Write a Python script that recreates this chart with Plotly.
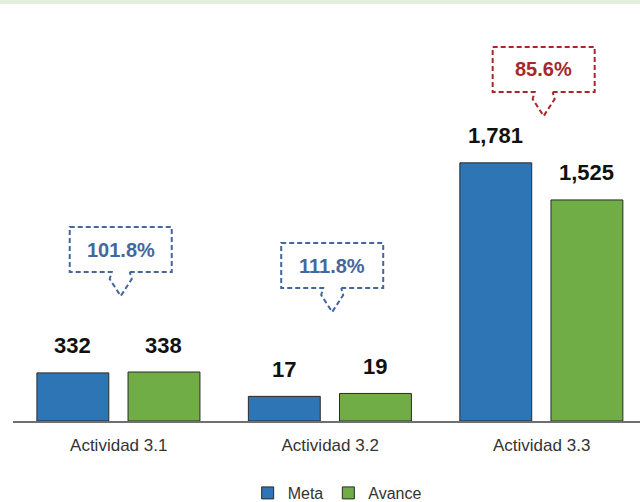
import plotly.graph_objects as go

categories = ["Actividad 3.1", "Actividad 3.2", "Actividad 3.3"]
meta = [332, 17, 1781]
avance = [338, 19, 1525]
pct_labels = ["101.8%", "111.8%", "85.6%"]
on_secondary = [False, True, False]   # Actividad 3.2 drawn on its own scale
pct_colors = ["#44679e", "#44679e", "#a8282a"]

W, H = 640, 502
L, R, T, B = 13, 0, 5, 81
PW, PH = W - L - R, H - T - B
XR = [-0.5, 2.465]

FONT = "Liberation Sans, Arial, sans-serif"
BLUE, GREEN, EDGE = "#2e75b6", "#70ad47", "#2a2a2a"

def main_vals(v):
    return [None if s else x for x, s in zip(v, on_secondary)]

def sec_vals(v):
    return [x if s else None for x, s in zip(v, on_secondary)]

fig = go.Figure()
bar_w, off_m, off_a = 0.34, -0.387, 0.044
for name, vals, col, off in [("Meta", meta, BLUE, off_m), ("Avance", avance, GREEN, off_a)]:
    fig.add_trace(go.Bar(x=categories, y=main_vals(vals), name=name, width=bar_w, offset=off,
                         marker=dict(color=col, line=dict(color=EDGE, width=1)),
                         legendgroup=name, yaxis="y"))
    fig.add_trace(go.Bar(x=categories, y=sec_vals(vals), name=name, width=bar_w, offset=off,
                         marker=dict(color=col, line=dict(color=EDGE, width=1)),
                         legendgroup=name, showlegend=False, yaxis="y2"))

# value labels
for i, cat in enumerate(categories):
    yr = "y2" if on_secondary[i] else "y"
    for vals, off in [(meta, off_m), (avance, off_a)]:
        fig.add_annotation(x=i + off + bar_w / 2, y=vals[i], xref="x", yref=yr,
                           text=f"{vals[i]:,}", showarrow=False, yshift=27,
                           xanchor="center", yanchor="middle",
                           font=dict(family=FONT, size=22, color="#111111", weight="bold"))

# callouts (pixel layout)
def px2x(px):
    return (px - L) / PW
def py2y(py):
    return (H - B - py) / PH

callout_top = [227, 243, 47]
box_h, half_w = 45, 51
for i, lab in enumerate(pct_labels):
    cx = L + (i - XR[0]) / (XR[1] - XR[0]) * PW + 2
    t = callout_top[i]
    b = t + box_h
    pts = [(cx + 9, b), (cx + half_w, b), (cx + half_w, t), (cx - half_w, t), (cx - half_w, b),
           (cx - 9, b), (cx - 11, b + 7), (cx, b + 24), (cx + 11, b + 7), (cx + 9, b)]
    path = "M " + " L ".join(f"{px2x(x):.5f},{py2y(y):.5f}" for x, y in pts)
    fig.add_shape(type="path", path=path, xref="paper", yref="paper",
                  line=dict(color=pct_colors[i], width=2, dash="5px,3px"),
                  fillcolor="rgba(0,0,0,0)")
    fig.add_annotation(x=px2x(cx), y=py2y(t + box_h / 2), xref="paper", yref="paper",
                       text=lab, showarrow=False, xanchor="center", yanchor="middle",
                       font=dict(family=FONT, size=20, color=pct_colors[i], weight="bold"))

# top light-green band
fig.add_shape(type="rect", xref="paper", yref="paper", x0=-L / PW, x1=1, y0=py2y(4), y1=py2y(0),
              fillcolor="#e2efda", line=dict(width=0), layer="below")

fig.update_layout(
    width=W, height=H, margin=dict(l=L, r=R, t=T, b=B, autoexpand=False),
    paper_bgcolor="white", plot_bgcolor="white", barmode="overlay",
    showlegend=True,
    legend=dict(orientation="h", x=0.517, xanchor="center", y=py2y(493), yanchor="middle",
                font=dict(family=FONT, size=16, color="#333333"), itemwidth=30,
                tracegroupgap=0),
    xaxis=dict(range=XR, showline=True, linecolor="#6f6f6f", linewidth=1.5, showgrid=False,
               ticks="", ticklabelstandoff=8, tickfont=dict(family=FONT, size=17, color="#333333"),
               zeroline=False),
    yaxis=dict(range=[0, 2870], visible=False, showgrid=False, zeroline=False),
    yaxis2=dict(range=[0, 287], visible=False, overlaying="y", showgrid=False, zeroline=False),
)

fig.write_html("out.html", config={"displayModeBar": False},
               post_script="document.body.style.margin='0px';")
